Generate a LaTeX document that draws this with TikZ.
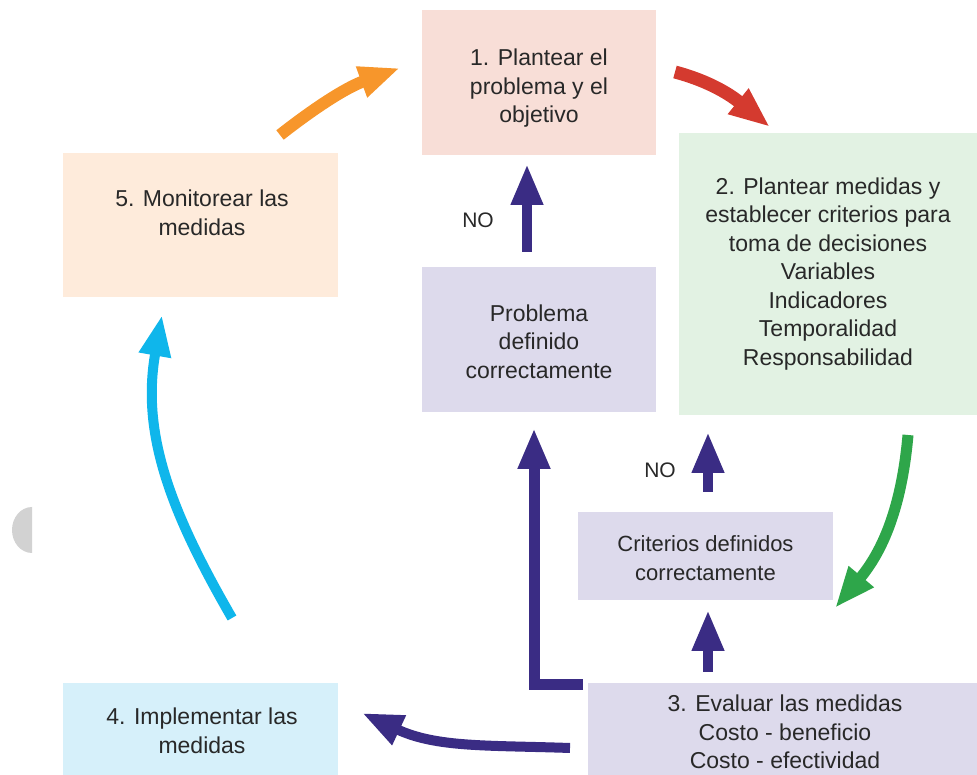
\documentclass[tikz,border=0pt]{standalone}
\usepackage{fontspec}
\setmainfont{Liberation Sans}
\usetikzlibrary{arrows.meta}
\definecolor{txt}{RGB}{40,40,40}
\definecolor{c1}{RGB}{248,222,215}
\definecolor{c2}{RGB}{226,242,227}
\definecolor{c5}{RGB}{254,235,219}
\definecolor{cp}{RGB}{221,218,236}
\definecolor{c4}{RGB}{214,240,250}
\definecolor{aor}{RGB}{247,150,43}
\definecolor{ared}{RGB}{212,58,47}
\definecolor{agr}{RGB}{46,166,74}
\definecolor{acy}{RGB}{15,182,235}
\definecolor{apu}{RGB}{58,44,132}
\begin{document}
\begin{tikzpicture}[x=1pt,y=1pt,
  box/.style={inner sep=0pt, align=center, text=txt, font=\fontsize{23}{28.5}\selectfont},
  small/.style={box, font=\fontsize{22}{28.5}\selectfont},
  flow/.style={line width=11pt, line join=miter, -{Triangle[length=41pt,width=30pt]}},
  nolab/.style={text=txt, font=\fontsize{21}{24}\selectfont, inner sep=0pt}
]
\useasboundingbox (0,0) rectangle (977,775);
% faint gray shape at left edge
\fill[gray!35] (32,222) arc[start angle=-90, end angle=-270, x radius=20, y radius=23] -- cycle;

% boxes
\node[box, fill=c1, minimum width=234pt, minimum height=145pt] (b1) at (539,692.5) {};
\node[box] (b1t) at (539,686.5) {1. Plantear el\\problema y el\\objetivo};
\node[box, fill=c2, minimum width=298pt, minimum height=282pt] (b2) at (828,501)
  {2. Plantear medidas y\\establecer criterios para\\toma de decisiones\\Variables\\Indicadores\\Temporalidad\\Responsabilidad};
\node[box, fill=c5, minimum width=275pt, minimum height=144pt] (b5) at (200.5,550) {};
\node[box] (b5t) at (202,562) {5. Monitorear las\\medidas};
\node[box, fill=cp, minimum width=234pt, minimum height=145pt] (bp) at (539,435.5) {};
\node[box] (bpt) at (539,433.5) {Problema\\definido\\correctamente};
\node[small, fill=cp, minimum width=255pt, minimum height=88pt] (bc) at (705.5,219) {};
\node[small] (bct) at (705.5,217) {Criterios definidos\\correctamente};
\node[box, fill=cp, minimum width=389pt, minimum height=92pt] (b3) at (782.5,46) {};
\node[box] (b3t) at (785,43) {3. Evaluar las medidas\\Costo - beneficio\\Costo - efectividad};
\node[box, fill=c4, minimum width=275pt, minimum height=92pt] (b4) at (200.5,46) {};
\node[box] (b4t) at (202,44) {4. Implementar las\\medidas};

% NO labels
\node[nolab] (no1) at (478,555) {NO};
\node[nolab] (no2) at (660,305) {NO};

% arrow end points
\coordinate (o1) at (280,640); \coordinate (o2) at (400,707);
\coordinate (r1) at (675,703); \coordinate (r2) at (770,648);
\coordinate (g1) at (908,340); \coordinate (g2) at (835,167);
\coordinate (c1s) at (232,157); \coordinate (c1e) at (162,460);
\coordinate (p1) at (570,27); \coordinate (p2) at (362,62);
\coordinate (l1) at (583,90); \coordinate (l2) at (534,90); \coordinate (l3) at (534,347);
\coordinate (v1a) at (527,523); \coordinate (v1b) at (527,611);
\coordinate (v2a) at (708,283); \coordinate (v2b) at (708,343);
\coordinate (v3a) at (708,103); \coordinate (v3b) at (708,165);

% arrows
\draw[flow, aor, line width=12pt] (o1) to[out=38,in=200] (o2);
\draw[flow, ared, line width=13pt] (r1) to[out=-15,in=141] (r2);
\draw[flow, agr] (g1) to[out=-95,in=50] (g2);
\draw[flow, acy, line width=10pt] (c1s) to[out=120,in=-100] (c1e);
\draw[flow, apu, line width=10pt] (p1) to[out=178,in=-25] (p2);
\draw[flow, apu] (l1) -- (l2) -- (l3);
\draw[flow, apu, line width=10pt] (v1a) -- (v1b);
\draw[flow, apu, line width=10pt] (v2a) -- (v2b);
\draw[flow, apu, line width=10pt] (v3a) -- (v3b);
\end{tikzpicture}
\end{document}
